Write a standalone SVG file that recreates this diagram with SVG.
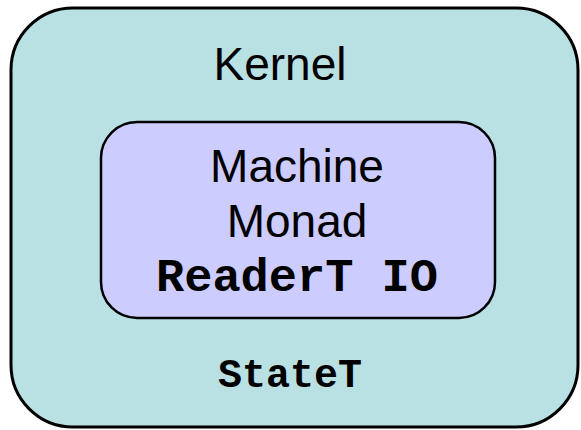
<svg xmlns="http://www.w3.org/2000/svg" width="581" height="430" viewBox="0 0 581 430">
  <style>
    .box { stroke: #000; }
    .sans { font-family: "Liberation Sans", Arial, sans-serif; fill: #000; text-anchor: middle; }
    .mono { font-family: "Liberation Mono", "Courier New", monospace; font-weight: bold; fill: #000; text-anchor: middle; }
  </style>
  <rect width="581" height="430" fill="#ffffff"/>
  <g id="kernel">
    <rect class="box" x="11" y="8" width="567" height="419" rx="62" ry="62" fill="#b9e0e2" stroke-width="3"/>
    <text class="sans" x="280" y="80" font-size="46">Kernel</text>
    <text class="mono" x="290" y="387" font-size="40">StateT</text>
  </g>
  <g id="machine-monad">
    <rect class="box" x="101" y="122" width="394" height="196" rx="36" ry="36" fill="#ccccff" stroke-width="2.5"/>
    <text class="sans" x="297" y="182" font-size="46">Machine</text>
    <text class="sans" x="297" y="237" font-size="46">Monad</text>
    <text class="mono" x="297" y="291" font-size="47">ReaderT IO</text>
  </g>
</svg>
